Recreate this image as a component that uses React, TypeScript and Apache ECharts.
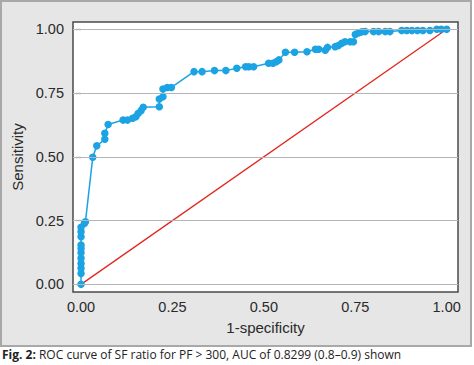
import React, { useEffect, useRef } from "react";
import * as echarts from "echarts";

// ROC curve points (1-specificity, sensitivity)
const fpr: number[] = [
  0, 0, 0, 0, 0, 0, 0, 0, 0, 0, 0, 0.009, 0.012,
  0.032, 0.043, 0.065, 0.065, 0.074, 0.115, 0.127, 0.141, 0.15, 0.156, 0.164, 0.17,
  0.214, 0.214, 0.224, 0.224, 0.236, 0.247,
  0.309, 0.331, 0.365, 0.396, 0.426, 0.45, 0.459, 0.472,
  0.513, 0.525, 0.534, 0.541, 0.559, 0.584, 0.618, 0.641, 0.65, 0.668, 0.674,
  0.695, 0.704, 0.713, 0.722, 0.736, 0.745, 0.75, 0.76, 0.768, 0.777,
  0.8, 0.814, 0.832, 0.845, 0.877, 0.891, 0.905, 0.92, 0.935, 0.954, 0.973, 0.985, 1.0,
];
const tpr: number[] = [
  0, 0.043, 0.063, 0.082, 0.102, 0.124, 0.141, 0.154, 0.187, 0.206, 0.224, 0.239, 0.245,
  0.498, 0.543, 0.569, 0.592, 0.627, 0.644, 0.644, 0.651, 0.657, 0.67, 0.681, 0.694,
  0.696, 0.727, 0.736, 0.766, 0.772, 0.772,
  0.834, 0.834, 0.838, 0.838, 0.847, 0.853, 0.853, 0.853,
  0.867, 0.867, 0.873, 0.88, 0.91, 0.91, 0.912, 0.922, 0.922, 0.918, 0.929,
  0.932, 0.936, 0.945, 0.951, 0.951, 0.951, 0.98, 0.986, 0.99, 0.991,
  0.991, 0.991, 0.991, 0.991, 0.995, 0.995, 0.995, 0.995, 0.995, 0.995, 1.0, 1.0, 1.0,
];
const refX: number[] = [0, 1];
const refY: number[] = [0, 1];
const tickValues: number[] = [0, 0.25, 0.5, 0.75, 1];
const xName = "1-specificity";
const yName = "Sensitivity";
const captionLead = "Fig. 2:";
const captionBody = " ROC curve of SF ratio for PF > 300, AUC of 0.8299 (0.8–0.9) shown";

export default function App() {
  const ref = useRef<HTMLDivElement>(null);
  useEffect(() => {
    if (!ref.current) return;
    const chart = echarts.init(ref.current, null, { renderer: "svg" });
    const font = "Liberation Sans, Arial, sans-serif";
    const capFont = "'Open Sans', sans-serif";
    const roc = fpr.map((x, i) => [x, tpr[i]]);
    const diag = refX.map((x, i) => [x, refY[i]]);
    chart.setOption({
      animation: false,
      backgroundColor: "#ffffff",
      textStyle: { fontFamily: font },
      graphic: [
        {
          type: "rect",
          z: -10,
          shape: { x: 1, y: 1, width: 470, height: 345 },
          style: { fill: "#e6e6e6", stroke: "#a8a8a8", lineWidth: 2 },
        },
        {
          type: "text",
          x: 2,
          y: 348,
          style: {
            text: "{b|" + captionLead + "}{r|" + captionBody + "}",
            fill: "#222",
            textVerticalAlign: "top",
            rich: {
              b: { fontFamily: capFont, fontSize: 12, fontWeight: "bold", fill: "#222" },
              r: { fontFamily: capFont, fontSize: 12, fill: "#222" },
            },
          },
        },
      ],
      grid: {
        left: 73,
        top: 22,
        width: 385,
        height: 270,
        show: true,
        backgroundColor: "#ffffff",
        borderColor: "#4a4a4a",
        borderWidth: 1.5,
      },
      xAxis: {
        type: "value",
        min: -0.022,
        max: 1.031,
        name: xName,
        nameLocation: "middle",
        nameGap: 28,
        nameTextStyle: { fontSize: 15, color: "#2a2a2a", fontFamily: font },
        axisLine: { show: false },
        axisTick: { show: false, customValues: tickValues },
        axisLabel: {
          customValues: tickValues,
          formatter: (v: number) => v.toFixed(2),
          fontSize: 14.5,
          color: "#2a2a2a",
          margin: 7,
          fontFamily: font,
        },
        splitLine: { show: false },
      },
      yAxis: {
        type: "value",
        min: -0.03,
        max: 1.0286,
        name: yName,
        nameLocation: "middle",
        nameGap: 46,
        nameTextStyle: { fontSize: 15, color: "#2a2a2a", fontFamily: font },
        axisLine: { show: false },
        axisTick: {
          show: true,
          length: 5,
          customValues: tickValues,
          lineStyle: { color: "#4a4a4a", width: 1.2 },
        },
        axisLabel: {
          customValues: tickValues,
          formatter: (v: number) => v.toFixed(2),
          fontSize: 14.5,
          color: "#2a2a2a",
          margin: 9,
          fontFamily: font,
        },
        splitLine: { show: false },
      },
      series: [
        {
          type: "line",
          data: [],
          z: 1,
          markLine: {
            silent: true,
            symbol: "none",
            label: { show: false },
            lineStyle: { color: "#b5b5b5", width: 1, type: "solid" },
            data: tickValues.map((v) => ({ yAxis: v })),
          },
        },
        {
          type: "line",
          data: diag,
          showSymbol: false,
          z: 2,
          lineStyle: { color: "#e3261f", width: 1.3 },
        },
        {
          type: "line",
          data: roc,
          clip: false,
          z: 3,
          symbol: "circle",
          symbolSize: 7.5,
          itemStyle: { color: "#1ba3e3" },
          lineStyle: { color: "#1ba3e3", width: 1.5 },
        },
      ],
    });
    return () => chart.dispose();
  }, []);
  return (
    <div
      ref={ref}
      style={{ position: "fixed", left: 0, top: 0, width: 474, height: 365 }}
    />
  );
}
